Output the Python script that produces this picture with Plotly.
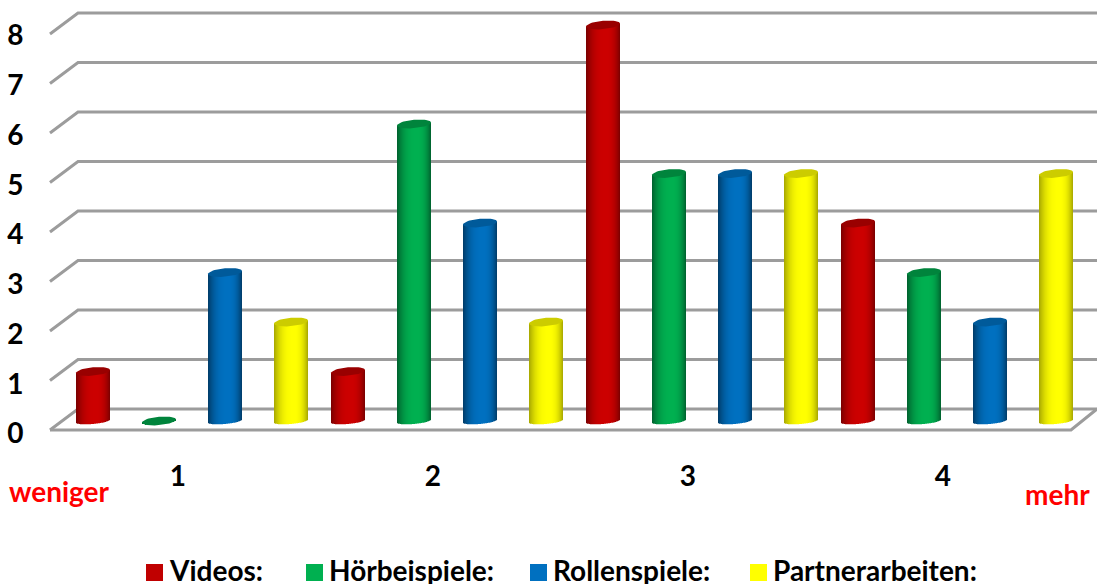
import math
import plotly.graph_objects as go

# Survey counts per rating step
steps = ["1", "2", "3", "4"]
videos = [1, 1, 8, 4]
hoerbeispiele = [0, 6, 5, 3]
rollenspiele = [3, 4, 5, 2]
partnerarbeiten = [2, 2, 5, 5]
value_ticks = [0, 1, 2, 3, 4, 5, 6, 7, 8]

series_names = ["Videos:", "Hörbeispiele:", "Rollenspiele:", "Partnerarbeiten:"]
series_values = [videos, hoerbeispiele, rollenspiele, partnerarbeiten]
legend_colors = ["#C00000", "#00B050", "#0070C0", "#FFFF00"]
legend_left = [146, 306, 530, 750]
body_colors = [(204, 0, 0), (0, 176, 80), (0, 112, 192), (255, 255, 0)]
edge_colors = [(120, 0, 0), (0, 95, 45), (0, 58, 102), (165, 165, 0)]
cap_colors = ["#990000", "#00843C", "#005A9A", "#CCCC00"]

FONT = "Lato"
TEXT_SIZE = 28
W, H = 1097, 586
PX_PER_GROUP = 255.0
PX_PER_UNIT = 49.5
X_MIN = 1 - 192 / PX_PER_GROUP
X_MAX = X_MIN + W / PX_PER_GROUP
Y_MAX = 421 / PX_PER_UNIT
Y_MIN = Y_MAX - H / PX_PER_UNIT

BAR_STEP = 66 / PX_PER_GROUP
RADIUS_X = 17 / PX_PER_GROUP
RADIUS_Y = 4.2 / PX_PER_UNIT
BOTTOM_ARC = 3 / PX_PER_UNIT
TILT = (0.09 / PX_PER_UNIT) * PX_PER_GROUP  # rise of the ellipse per x unit
STRIPS = 34

# 3D frame: offsets of the back wall and front floor edge relative to the bar plane
BACK_DY = 12 / PX_PER_UNIT
FRONT_DY = -9 / PX_PER_UNIT
FRONT_LEFT = X_MIN + 50 / PX_PER_GROUP
BACK_LEFT = X_MIN + 78 / PX_PER_GROUP
FRONT_RIGHT = X_MIN + 1071 / PX_PER_GROUP


def shade(body, edge, u):
    d = (0.15 - u) / 1.15 if u < 0.15 else (u - 0.15) / 0.85
    t = min(1.0, d ** 2.6)
    return "rgb(%d,%d,%d)" % tuple(round(b + (e - b) * t) for b, e in zip(body, edge))


fig = go.Figure()

for s, values in enumerate(series_values):
    centers = [k + 1 + (s - 1.5) * BAR_STEP for k in range(len(values))]
    # Each cylinder body is a run of one-pixel bars whose shade gives the curved surface
    for i in range(STRIPS):
        u = (i + 0.5) / STRIPS * 2 - 1
        dx = u * RADIUS_X
        arc = BOTTOM_ARC * math.sqrt(1 - u * u)
        rise = TILT * dx
        base = rise - arc
        fig.add_trace(go.Bar(
            x=[c + dx for c in centers],
            y=[v + rise - base for v in values],
            base=[base] * len(values),
            width=2 * RADIUS_X / STRIPS,
            marker=dict(color=shade(body_colors[s], edge_colors[s], u), line=dict(width=0)),
            showlegend=False,
            hoverinfo="skip",
        ))
    # Elliptic top of every cylinder
    for c, v in zip(centers, values):
        xs, ys = [], []
        for a in range(49):
            t = a / 48 * 2 * math.pi
            dx = RADIUS_X * math.cos(t)
            xs.append(c + dx)
            ys.append(v + RADIUS_Y * math.sin(t) + TILT * dx)
        fig.add_trace(go.Scatter(
            x=xs, y=ys, mode="lines", fill="toself", fillcolor=cap_colors[s],
            line=dict(width=0), showlegend=False, hoverinfo="skip",
        ))

# Carries the value axis, which sits on the front edge of the frame
fig.add_trace(go.Scatter(
    x=[X_MIN, X_MIN], y=[value_ticks[0], value_ticks[-1]], yaxis="y2",
    mode="markers", marker=dict(opacity=0), showlegend=False, hoverinfo="skip",
))

# Wall lines and floor of the 3D frame, kept behind the bars
shapes = []
for v in value_ticks:
    path = "M %f,%f L %f,%f L %f,%f" % (
        FRONT_LEFT, v + FRONT_DY, BACK_LEFT, v + BACK_DY, X_MAX, v + BACK_DY)
    shapes.append(dict(type="path", path=path, xref="x", yref="y", layer="below",
                       line=dict(color="#9C9C9C", width=3)))
floor = "M %f,%f L %f,%f L %f,%f" % (
    FRONT_LEFT, FRONT_DY, FRONT_RIGHT, FRONT_DY, X_MAX, BACK_DY)
shapes.append(dict(type="path", path=floor, xref="x", yref="y", layer="below",
                   line=dict(color="#9C9C9C", width=3)))

text_font = dict(family=FONT, size=TEXT_SIZE, color="black", weight=700)
red_note = dict(family=FONT, size=TEXT_SIZE, color="#FF0000", weight=700)

annotations = [
    dict(text="weniger", xref="paper", yref="paper", x=7 / W, y=1 - 491 / H,
         xanchor="left", yanchor="middle", showarrow=False, font=red_note),
    dict(text="mehr", xref="paper", yref="paper", x=1092 / W, y=1 - 494 / H,
         xanchor="right", yanchor="middle", showarrow=False, font=red_note),
]

# Key below the chart: a colour square followed by the series name
for name, color, left in zip(series_names, legend_colors, legend_left):
    shapes.append(dict(type="rect", xref="paper", yref="paper",
                       x0=left / W, x1=(left + 17) / W, y0=1 - 581 / H, y1=1 - 564 / H,
                       fillcolor=color, line=dict(width=0), layer="above"))
    annotations.append(dict(text=name, xref="paper", yref="paper", x=(left + 21) / W,
                            y=1 - 570 / H, xanchor="left", yanchor="middle", height=28,
                            showarrow=False, font=text_font))

fig.update_layout(
    width=W, height=H,
    margin=dict(l=0, r=0, t=0, b=0),
    paper_bgcolor="white", plot_bgcolor="white",
    barmode="overlay",
    shapes=shapes,
    showlegend=False,
    xaxis=dict(
        range=[X_MIN, X_MAX], showgrid=False, zeroline=False, showline=False,
        tickmode="array", tickvals=[k + 1 - 0.055 for k in range(len(steps))], ticktext=steps,
        ticks="", anchor="free", position=0.22, tickfont=text_font,
    ),
    yaxis=dict(range=[Y_MIN, Y_MAX], visible=False),
    yaxis2=dict(
        range=[-(H - 433.5) / 49.75, 433.5 / 49.75], overlaying="y", anchor="free", position=0.0215,
        side="left", showgrid=False, zeroline=False, showline=False, ticks="",
        tickmode="array", tickvals=value_ticks, tickfont=text_font,
    ),
    annotations=annotations,
)

fig.write_html("out.html")
